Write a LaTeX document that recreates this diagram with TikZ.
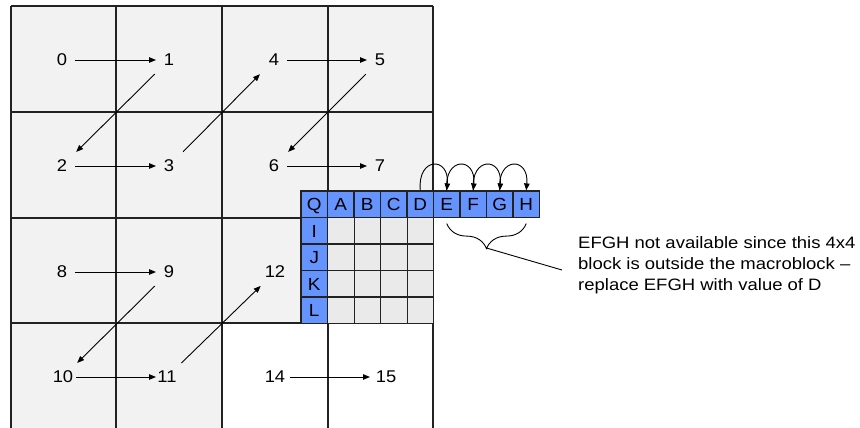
\documentclass[tikz,border=0pt]{standalone}
\usepackage{fontspec}
\setmainfont[FakeStretch=1.08]{Liberation Sans}
\newfontfamily\notefont[FakeStretch=1.12]{Liberation Sans}
\usetikzlibrary{arrows.meta,decorations.pathreplacing}
\definecolor{cellbg}{HTML}{F2F2F2}
\definecolor{blk}{HTML}{EAEAEA}
\definecolor{blu}{HTML}{6694FF}
\definecolor{ln}{HTML}{222222}
\begin{document}
\begin{tikzpicture}[x=1pt,y=-1pt,
  grid/.style={draw=ln,line width=1.6pt},
  num/.style={font=\fontsize{17}{20}\selectfont,inner sep=0pt},
  arr/.style={-{Triangle[length=7pt,width=5.5pt]},line width=0.9pt},
  hor/.style={arr,shorten <=13pt,shorten >=13pt},
  dia/.style={arr,shorten <=20pt,shorten >=20pt},
  bcell/.style={draw=ln,fill=blu,line width=1.2pt,minimum width=26.5pt,minimum height=26.5pt,inner sep=0pt,text height=12.5pt,text depth=0pt,font=\fontsize{17.5}{20}\selectfont},
  gcell/.style={draw=ln,fill=blk,line width=1.2pt,minimum width=26.5pt,minimum height=26.5pt,inner sep=0pt},
  note/.style={font=\notefont\fontsize{16.5}{21}\selectfont,align=left,inner sep=0pt}]
\useasboundingbox (0,0) rectangle (860,428);
% backgrounds
\fill[cellbg] (11,6) rectangle (433,323);
\fill[cellbg] (11,323) rectangle (222,430);
% grid
\foreach \x in {11,116,222,328,433} \draw[grid] (\x,6) -- (\x,430);
\foreach \y in {6,112,218,323} \draw[grid] (11,\y) -- (433,\y);
% numbers
\node[num] (n0) at (62,60) {0};
\node[num] (n1) at (169,60) {1};
\node[num] (n4) at (274,60) {4};
\node[num] (n5) at (380,60) {5};
\node[num] (n2) at (62,166) {2};
\node[num] (n3) at (169,166) {3};
\node[num] (n6) at (274,166) {6};
\node[num] (n7) at (380,166) {7};
\node[num] (n8) at (62,272) {8};
\node[num] (n9) at (169,272) {9};
\node[num] (n12) at (275,272) {12};
\node[num] (n10) at (63,377) {10};
\node[num] (n11) at (167,377) {11};
\node[num] (n14) at (275,377) {14};
\node[num] (n15) at (386,377) {15};
% arrows
\draw[hor] (n0.center) -- (n1.center);
\draw[dia] (n1.center) -- (n2.center);
\draw[hor] (n2.center) -- (n3.center);
\draw[dia] (n3.center) -- (n4.center);
\draw[hor] (n4.center) -- (n5.center);
\draw[dia] (n5.center) -- (n6.center);
\draw[hor] (n6.center) -- (n7.center);
\draw[hor] (n8.center) -- (n9.center);
\draw[dia] (n9.center) -- (n10.center);
\draw[hor,shorten >=11pt] (n10.center) -- (n11.center);
\draw[dia] (n11.center) -- (n12.center);
\draw[hor,shorten <=15pt,shorten >=16pt] (n14.center) -- (n15.center);
% 4x4 block
\foreach \r in {0,...,3}
  \foreach \c in {0,...,3}
    \node[gcell] (g\r\c) at (341+26.5*\c,230.75+26.5*\r) {};
\foreach \n/\t [count=\i from 0] in {q/Q,a/A,b/B,c/C,d/D,e/E,f/F,g/G,h/H}
  \node[bcell] (\n) at (314.25+26.5*\i,204.25) {\t};
\foreach \n/\t [count=\i from 1] in {i/I,j/J,k/K,l/L}
  \node[bcell] (\n) at (314.25,204.25+26.5*\i) {\t};
% curved arrows
\foreach \u/\v in {d/e,e/f,f/g,g/h}
  \draw[arr] (\u.north) .. controls +(-3,-34) and +(3,-34) .. (\v.north);
% brace
\draw[line width=0.9pt,decorate,decoration={brace,mirror,amplitude=25pt}]
  ([yshift=-5.5pt]e.south) -- ([yshift=-5.5pt]h.south);
\coordinate (tip) at (486.5,248);
\coordinate (lend) at (562,270);
\draw[line width=0.9pt] (tip) -- (lend);
\node[note,anchor=base west] (txt) at (578,290)
  {EFGH not available since this 4x4\\block is outside the macroblock –\\replace EFGH with value of D};
\end{tikzpicture}
\end{document}
